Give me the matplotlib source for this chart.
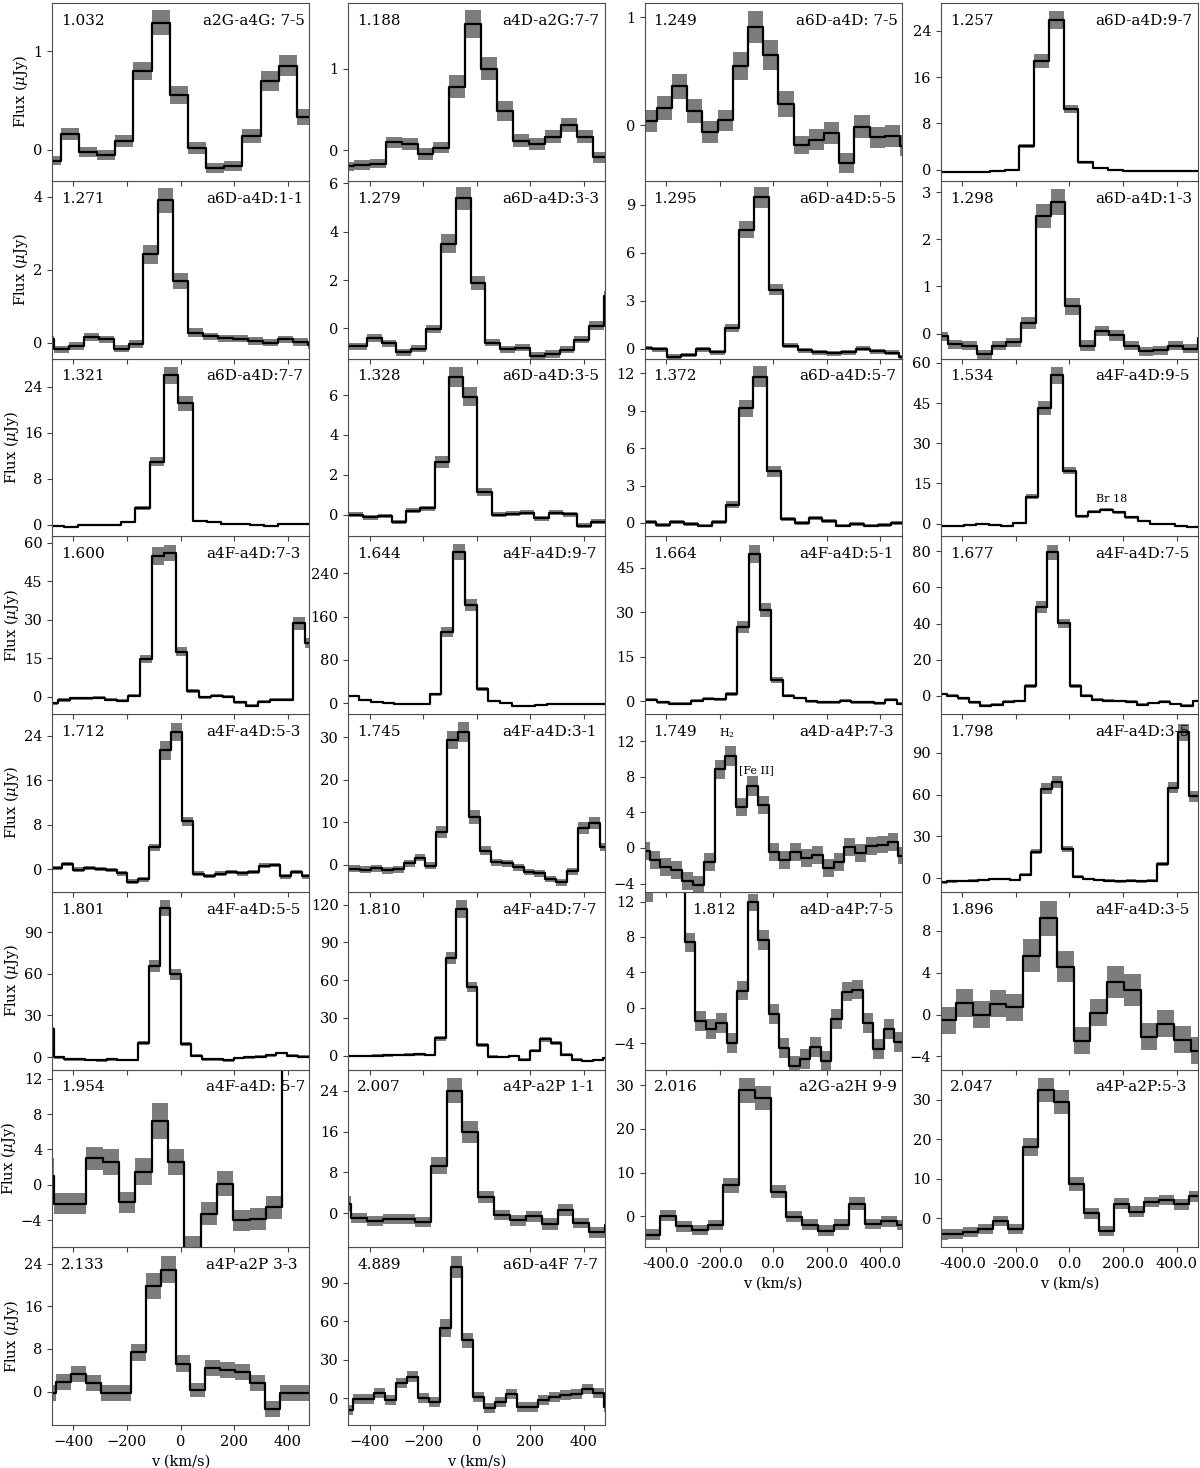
import numpy as np
import matplotlib
matplotlib.use('Agg')
import matplotlib.pyplot as plt
from matplotlib.ticker import MultipleLocator

plt.rcParams['font.family'] = 'DejaVu Serif'
plt.rcParams['mathtext.fontset'] = 'dejavuserif'

# panel order: row by row, 4 per row (last row has 2)
wavelengths = ['1.032', '1.188', '1.249', '1.257',
               '1.271', '1.279', '1.295', '1.298',
               '1.321', '1.328', '1.372', '1.534',
               '1.600', '1.644', '1.664', '1.677',
               '1.712', '1.745', '1.749', '1.798',
               '1.801', '1.810', '1.812', '1.896',
               '1.954', '2.007', '2.016', '2.047',
               '2.133', '4.889']
transitions = ['a2G-a4G: 7-5', 'a4D-a2G:7-7', 'a6D-a4D: 7-5', 'a6D-a4D:9-7',
               'a6D-a4D:1-1', 'a6D-a4D:3-3', 'a6D-a4D:5-5', 'a6D-a4D:1-3',
               'a6D-a4D:7-7', 'a6D-a4D:3-5', 'a6D-a4D:5-7', 'a4F-a4D:9-5',
               'a4F-a4D:7-3', 'a4F-a4D:9-7', 'a4F-a4D:5-1', 'a4F-a4D:7-5',
               'a4F-a4D:5-3', 'a4F-a4D:3-1', 'a4D-a4P:7-3', 'a4F-a4D:3-5',
               'a4F-a4D:5-5', 'a4F-a4D:7-7', 'a4D-a4P:7-5', 'a4F-a4D:3-5',
               'a4F-a4D: 5-7', 'a4P-a2P 1-1', 'a2G-a2H 9-9', 'a4P-a2P:5-3',
               'a4P-a2P 3-3', 'a6D-a4F 7-7']

# velocity grid of each spectrum: left edge of first channel, channel width (km/s)
grid_start = [-515.6, -519.6, -490.7, -518.4,
              -529.7, -522.2, -505.1, -509.9,
              -489.1, -530.4, -487.2, -487.4,
              -501.7, -482.8, -518.0, -500.35,
              -483.8, -517.4, -501.8, -498.0,
              -513.6, -508.6, -486.0, -485.5,
              -535.0, -527.4, -538.9, -510.7,
              -521.0, -504.6]
grid_step = [67.9, 59.6, 56.7, 55.2,
             55.9, 55.4, 54.2, 54.9,
             53.4, 53.2, 51.6, 46.4,
             43.9, 43.8, 42.6, 41.75,
             40.8, 40.7, 40.4, 39.3,
             39.6, 39.2, 39.06, 62.6,
             61.0, 59.2, 58.8, 56.4,
             55.8, 40.8]

# y range and tick spacing of each panel
y_limits = [(-0.315, 1.49), (-0.37, 1.8), (-0.51, 1.13), (-1.9, 28.8),
            (-0.43, 4.44), (-1.24, 6.1), (-0.62, 10.49), (-0.53, 3.24),
            (-1.96, 28.9), (-1.08, 7.83), (-1.07, 13.2), (-4.7, 61.6),
            (-6.75, 62.5), (-19.7, 308), (-4.3, 55.7), (-10.2, 88.4),
            (-4.04, 27.95), (-6.4, 35.5), (-4.92, 15.04), (-9.6, 117.8),
            (-8.9, 119), (-11.1, 130.3), (-6.95, 13.1), (-5.24, 11.7),
            (-7.07, 13.04), (-6.7, 28.2), (-7.1, 33.6), (-7.35, 37.6),
            (-6.27, 27.1), (-20.8, 117.7)]
y_tick_step = [1, 1, 1, 8,
               2, 2, 3, 1,
               8, 2, 3, 15,
               15, 80, 15, 20,
               8, 10, 4, 30,
               30, 30, 4, 4,
               4, 8, 10, 10,
               8, 30]

# flux (uJy) per channel and its 1-sigma error
f1032 = [-0.11, 0.156, -0.02, -0.05, 0.09, 0.80, 1.29, 0.556, 0.017, -0.186, -0.163, 0.142, 0.70, 0.854, 0.336]
e1032 = [0.05, 0.06, 0.05, 0.05, 0.06, 0.095, 0.13, 0.09, 0.06, 0.05, 0.05, 0.07, 0.10, 0.11, 0.08]
f1188 = [-0.195, -0.18, -0.16, 0.10, 0.08, -0.045, 0.035, 0.78, 1.54, 1.00, 0.48, 0.12, 0.08, 0.17, 0.31, 0.17, -0.085]
e1188 = [0.06, 0.06, 0.06, 0.07, 0.07, 0.07, 0.07, 0.14, 0.17, 0.135, 0.12, 0.08, 0.07, 0.08, 0.08, 0.08, 0.07]
f1249 = [0.04, 0.16, 0.363, 0.13, -0.06, 0.046, 0.545, 0.908, 0.652, 0.20, -0.18, -0.13, -0.07, -0.345, -0.01, -0.11, -0.10, -0.185]
e1249 = [0.10, 0.11, 0.115, 0.11, 0.10, 0.10, 0.13, 0.15, 0.14, 0.12, 0.085, 0.10, 0.10, 0.09, 0.11, 0.10, 0.10, 0.10]
f1257 = [-0.35, -0.35, -0.4, -0.4, -0.2, -0.06, 4.03, 18.8, 25.9, 10.47, 1.27, 0.23, -0.06, -0.29, -0.29, -0.17, -0.17, -0.17, -0.17]
e1257 = [0.1, 0.1, 0.1, 0.1, 0.1, 0.12, 0.35, 1.2, 1.6, 0.7, 0.25, 0.12, 0.1, 0.1, 0.1, 0.1, 0.1, 0.1, 0.1]

f1271 = [0.10, -0.18, -0.09, 0.17, 0.10, -0.16, -0.03, 2.42, 3.90, 1.69, 0.28, 0.18, 0.125, 0.11, 0.05, 0.0, 0.10, 0.02, -0.07]
e1271 = [0.1, 0.1, 0.1, 0.11, 0.1, 0.1, 0.1, 0.25, 0.34, 0.22, 0.12, 0.1, 0.1, 0.1, 0.1, 0.1, 0.1, 0.1, 0.1]
f1279 = [-0.73, -0.73, -0.39, -0.61, -0.98, -0.83, -0.03, 3.50, 5.37, 1.87, -0.58, -0.86, -0.80, -1.12, -1.05, -0.88, -0.47, 0.12, 1.36]
e1279 = [0.15, 0.15, 0.15, 0.15, 0.15, 0.15, 0.17, 0.39, 0.46, 0.29, 0.15, 0.15, 0.15, 0.15, 0.15, 0.15, 0.15, 0.17, 0.2]
f1295 = [0.04, -0.04, -0.5, -0.4, -0.04, -0.22, 1.28, 7.44, 9.45, 3.69, 0.18, -0.11, -0.22, -0.29, -0.22, 0.0, -0.18, -0.26, -0.55]
e1295 = [0.15, 0.15, 0.15, 0.15, 0.15, 0.15, 0.25, 0.55, 0.66, 0.35, 0.15, 0.15, 0.15, 0.15, 0.15, 0.15, 0.15, 0.15, 0.15]
f1298 = [-0.06, -0.23, -0.26, -0.44, -0.26, -0.19, 0.22, 2.49, 2.79, 0.58, -0.26, 0.05, -0.04, -0.26, -0.38, -0.36, -0.26, -0.32, -0.1]
e1298 = [0.1, 0.1, 0.1, 0.1, 0.1, 0.1, 0.13, 0.25, 0.28, 0.18, 0.12, 0.11, 0.11, 0.1, 0.1, 0.1, 0.1, 0.1, 0.1]

f1321 = [-0.1, -0.4, 0.06, -0.06, 0.0, 0.46, 2.88, 11.0, 26.0, 21.1, 0.63, 0.46, 0.23, 0.17, -0.06, -0.23, 0.11, 0.17, 0.23]
e1321 = [0.15, 0.15, 0.15, 0.15, 0.15, 0.2, 0.35, 0.8, 1.5, 1.3, 0.2, 0.15, 0.15, 0.15, 0.15, 0.15, 0.15, 0.15, 0.15]
f1328 = [0.0, 0.0, -0.13, -0.07, -0.37, 0.2, 0.32, 2.62, 6.9, 5.92, 1.15, 0.0, 0.05, 0.1, -0.18, 0.1, 0.03, -0.55, -0.35, -0.35]
e1328 = [0.12, 0.12, 0.12, 0.12, 0.12, 0.12, 0.12, 0.3, 0.5, 0.48, 0.2, 0.12, 0.12, 0.12, 0.12, 0.12, 0.12, 0.12, 0.12, 0.12]
f1372 = [0.05, -0.16, 0.05, -0.08, -0.21, 0.05, 1.47, 9.2, 11.74, 4.14, 0.32, -0.03, 0.37, 0.16, -0.21, -0.08, -0.21, -0.16, 0.0]
e1372 = [0.15, 0.15, 0.15, 0.15, 0.15, 0.15, 0.25, 0.67, 0.83, 0.45, 0.15, 0.15, 0.15, 0.15, 0.15, 0.15, 0.15, 0.15, 0.15]
f1534 = [-0.87, -0.74, -0.5, 0.0, -0.37, -1.0, 0.25, 10.0, 43.2, 55.3, 19.7, 2.73, 4.46, 5.2, 4.2, 2.35, 0.87, 0.0, 0.0, -0.74, -1.1, -1.1]
e1534 = [0.4, 0.4, 0.4, 0.4, 0.4, 0.4, 0.4, 0.9, 2.7, 3.1, 1.3, 0.5, 0.6, 0.6, 0.6, 0.5, 0.4, 0.4, 0.4, 0.4, 0.4, 0.4]

f1600 = [-2.6, -1.3, -0.6, -0.7, -0.4, -1.2, -1.56, 0.4, 14.7, 54.9, 56.0, 17.5, 2.1, -0.26, 0.4, 0.0, -2.2, -3.5, -1.95, -1.2, -1.2, 28.6, 20.8]
e1600 = [0.6, 0.6, 0.6, 0.6, 0.6, 0.6, 0.6, 0.6, 1.5, 3.5, 3.2, 1.7, 0.8, 0.6, 0.6, 0.6, 0.6, 0.6, 0.6, 0.6, 0.6, 2.6, 2.0]
f1644 = [14.2, 6.8, 3.1, 1.2, -1.2, -1.8, -1.2, 16.6, 131.0, 278.8, 181.5, 26.5, 3.7, 0.6, -4.3, -4.9, -3.7, -1.8, -1.8, -1.2, -0.6, -0.6, -0.6]
e1644 = [2.0, 2.0, 2.0, 2.0, 2.0, 2.0, 2.0, 3.0, 9.0, 14.8, 11.0, 3.0, 2.0, 2.0, 2.0, 2.0, 2.0, 2.0, 2.0, 2.0, 2.0, 2.0, 2.0]
f1664 = [0.45, 0.45, -0.34, -0.9, -0.9, 0.2, 0.9, 0.67, 2.47, 25.0, 49.7, 30.8, 7.2, 1.9, 1.1, 0.0, -0.3, -0.3, 0.2, -0.3, -0.3, -0.7, 0.45, -0.9]
e1664 = [0.5, 0.5, 0.5, 0.5, 0.5, 0.5, 0.5, 0.5, 0.6, 2.0, 3.0, 2.5, 0.9, 0.5, 0.5, 0.5, 0.5, 0.5, 0.5, 0.5, 0.5, 0.5, 0.5, 0.5]
f1677 = [0.9, 0.0, -1.5, -3.7, -5.5, -5.0, -3.3, -3.1, 5.2, 49.4, 79.5, 40.1, 5.2, 0.0, -2.2, -2.8, -3.1, -3.3, -5.0, -4.1, -3.3, -4.6, -5.5, -3.1]
e1677 = [0.7, 0.7, 0.7, 0.7, 0.7, 0.7, 0.7, 0.7, 1.0, 3.3, 4.0, 2.5, 1.0, 0.7, 0.7, 0.7, 0.7, 0.7, 0.7, 0.7, 0.7, 0.7, 0.7, 0.7]

f1712 = [0.24, 0.96, -0.06, 0.24, 0.06, -0.12, -0.72, -2.2, -1.8, 3.98, 21.4, 24.7, 8.67, -0.78, -1.2, -0.78, -0.48, -0.72, -0.48, 0.66, 0.78, -1.27, -0.48, -1.27]
e1712 = [0.4, 0.4, 0.4, 0.4, 0.4, 0.4, 0.4, 0.4, 0.4, 0.6, 1.7, 1.6, 0.8, 0.4, 0.4, 0.4, 0.4, 0.4, 0.4, 0.4, 0.4, 0.4, 0.4, 0.4]
f1745 = [-1.0, -1.0, -1.2, -0.9, -1.3, -1.1, 0.3, 1.66, -0.24, 7.66, 29.4, 31.3, 11.2, 3.3, 0.55, 0.3, -0.63, -1.74, -2.05, -3.4, -4.2, -1.58, 8.7, 9.87, 4.1]
e1745 = [0.8, 0.8, 0.8, 0.8, 0.8, 0.8, 0.8, 0.8, 0.8, 1.4, 2.2, 2.4, 1.6, 1.0, 0.8, 0.8, 0.8, 0.8, 0.8, 0.8, 0.8, 0.8, 1.4, 1.4, 1.0]
f1749 = [-0.3, -1.35, -2.18, -2.44, -3.68, -4.17, -1.54, 8.83, 10.34, 4.59, 6.95, 4.85, -0.49, -1.32, -0.49, -1.17, -0.75, -2.26, -1.62, 0.08, -0.56, 0.19, 0.38, 0.64, -0.86]
e1749 = [1.0, 1.0, 1.0, 1.0, 1.0, 1.0, 1.0, 1.1, 1.1, 1.0, 1.1, 1.0, 1.0, 1.0, 1.0, 1.0, 1.0, 1.0, 1.0, 1.0, 1.0, 1.0, 1.0, 1.0, 1.0]
f1798 = [-2.9, -2.2, -1.9, -1.7, -1.2, -0.5, -0.5, -1.2, 2.6, 19.2, 64.3, 69.1, 21.1, 1.2, -0.5, -1.2, -1.7, -2.2, -1.7, -2.2, -1.7, 10.3, 65.0, 104.6, 58.8]
e1798 = [1.0, 1.0, 1.0, 1.0, 1.0, 1.0, 1.0, 1.0, 1.0, 2.0, 4.0, 4.0, 2.0, 1.0, 1.0, 1.0, 1.0, 1.0, 1.0, 1.0, 1.0, 1.5, 4.0, 6.0, 4.0]

f1801 = [20.5, 0.0, -1.5, -1.5, -2.0, -2.2, -1.7, -2.0, -2.0, 10.1, 65.6, 107.4, 59.6, 9.65, 1.0, -1.5, -1.5, -2.2, -0.7, -0.2, 0.2, 1.45, 2.9, 1.0, 0.2, 0.2]
e1801 = [1.5, 1.0, 1.0, 1.0, 1.0, 1.0, 1.0, 1.0, 1.0, 1.5, 4.5, 6.0, 4.0, 1.5, 1.0, 1.0, 1.0, 1.0, 1.0, 1.0, 1.0, 1.0, 1.0, 1.0, 1.0, 1.0]
f1810 = [-0.5, -0.5, -0.3, 0.0, 0.2, 0.5, 0.8, 1.0, 0.6, 13.8, 77.6, 116.6, 54.8, 8.5, -0.8, -1.3, -0.3, -3.2, 4.0, 13.0, 9.8, 0.8, -3.2, -4.2, -3.4, -1.9]
e1810 = [1.0, 1.0, 1.0, 1.0, 1.0, 1.0, 1.0, 1.0, 1.0, 2.0, 5.0, 6.9, 4.0, 1.5, 1.0, 1.0, 1.0, 1.0, 1.2, 2.0, 1.8, 1.0, 1.0, 1.0, 1.0, 1.0]
f1812 = [13.6, 20.0, 24.0, 18.0, 7.4, -1.5, -2.37, -1.73, -3.98, 1.95, 11.9, 7.67, -0.68, -4.55, -6.58, -5.75, -4.44, -5.94, -1.24, 1.84, 2.07, -1.73, -4.62, -2.37, -3.87]
e1812 = [1.7, 1.5, 1.5, 1.5, 1.1, 1.1, 1.1, 1.1, 1.1, 1.1, 1.0, 1.1, 1.1, 1.1, 1.1, 1.1, 1.1, 1.1, 1.1, 1.1, 1.1, 1.1, 1.1, 1.1, 1.1]
f1896 = [-0.57, 1.11, -0.03, 1.02, 0.7, 5.62, 9.17, 4.57, -2.48, 0.16, 3.08, 2.35, -2.1, -0.89, -2.41, -3.43]
e1896 = [1.3, 1.3, 1.3, 1.3, 1.3, 1.6, 1.65, 1.5, 1.3, 1.3, 1.5, 1.5, 1.3, 1.3, 1.3, 1.3]

f1954 = [1.0, -2.14, -2.14, 3.0, 2.56, -2.0, 1.5, 7.2, 2.56, -7.4, -3.27, 0.11, -4.0, -3.87, -2.52, 30.0, 30.0]
e1954 = [2.0, 1.2, 1.2, 1.3, 1.5, 1.2, 1.5, 2.0, 1.5, 1.6, 1.3, 1.4, 1.2, 1.2, 1.3, 2.0, 2.0]
f2007 = [1.83, -1.0, -1.6, -1.2, -1.1, -1.8, 9.35, 24.0, 15.9, 3.14, -0.33, -1.44, -0.65, -2.16, 0.65, -1.96, -3.8, -2.3]
e2007 = [1.5, 1.0, 1.0, 1.0, 1.0, 1.0, 1.7, 2.45, 2.2, 1.2, 1.0, 1.0, 1.0, 1.2, 1.2, 1.0, 1.0, 1.0]
f2016 = [-4.2, -4.2, 0.15, -2.3, -3.14, -2.0, 7.04, 28.8, 27.1, 5.66, -0.08, -1.9, -3.3, -1.9, 2.83, -1.76, -1.15, -2.0]
e2016 = [1.2, 1.2, 1.2, 1.2, 1.2, 1.2, 1.7, 2.8, 2.8, 1.5, 1.2, 1.2, 1.2, 1.2, 1.5, 1.2, 1.2, 1.2]
f2047 = [-4.1, -4.0, -3.55, -2.7, -0.76, -2.7, 18.0, 32.4, 29.4, 8.7, 1.27, -3.3, 3.63, 1.69, 4.06, 4.65, 3.47, 5.5]
e2047 = [1.3, 1.3, 1.3, 1.3, 1.3, 1.3, 2.4, 3.0, 3.0, 1.8, 1.4, 1.3, 1.4, 1.3, 1.3, 1.3, 1.3, 1.3]

f2133 = [-0.3, 1.88, 3.26, 1.69, -0.3, -0.3, 7.39, 19.9, 22.9, 5.2, 0.31, 4.39, 4.07, 3.76, 1.69, -3.32, -0.3, -0.3, -0.3]
e2133 = [1.5, 1.5, 1.5, 1.5, 1.5, 1.5, 1.6, 2.45, 2.6, 1.6, 1.3, 1.5, 1.5, 1.5, 1.5, 1.5, 1.55, 1.55, 1.55]
f4889 = [-9.1, -0.8, -0.8, 3.9, -1.3, 11.7, 16.9, 0.0, -2.6, 54.7, 102.3, 45.1, 1.3, -7.8, -2.6, 3.1, -7.0, -6.5, -1.3, 1.3, 2.6, 3.1, 7.0, 3.9, -6.5]
e4889 = [4.0, 4.0, 4.0, 4.0, 4.0, 4.0, 4.0, 4.0, 4.0, 6.8, 8.9, 6.0, 4.0, 4.0, 4.0, 4.0, 4.0, 4.0, 4.0, 4.0, 4.0, 4.0, 4.0, 4.0, 4.0]

fluxes = [f1032, f1188, f1249, f1257, f1271, f1279, f1295, f1298,
          f1321, f1328, f1372, f1534, f1600, f1644, f1664, f1677,
          f1712, f1745, f1749, f1798, f1801, f1810, f1812, f1896,
          f1954, f2007, f2016, f2047, f2133, f4889]
errors = [e1032, e1188, e1249, e1257, e1271, e1279, e1295, e1298,
          e1321, e1328, e1372, e1534, e1600, e1644, e1664, e1677,
          e1712, e1745, e1749, e1798, e1801, e1810, e1812, e1896,
          e1954, e2007, e2016, e2047, e2133, e4889]

fig = plt.figure(figsize=(12, 14.68), dpi=100)
gs = fig.add_gridspec(8, 4, left=52/1200, right=1198/1200, top=1-3/1468,
                      bottom=1-1425/1468, hspace=0, wspace=0.1525)

band_color = '#7c7c7c'
# draw bottom rows first so the x ticks of upper panels stay on top
for i in reversed(range(len(wavelengths))):
    row, col = divmod(i, 4)
    ax = fig.add_subplot(gs[row, col])
    flux = np.array(fluxes[i])
    err = np.array(errors[i])
    edges = grid_start[i] + grid_step[i] * np.arange(len(flux) + 1)
    y = np.append(flux, flux[-1])
    e = np.append(err, err[-1])
    ax.fill_between(edges, y - e, y + e, step='post', color=band_color, lw=0)
    ax.step(edges, y, where='post', color='k', lw=1.6)

    ax.set_xlim(-480, 480)
    ax.set_ylim(*y_limits[i])
    ax.yaxis.set_major_locator(MultipleLocator(y_tick_step[i]))
    ax.set_xticks([-400, -200, 0, 200, 400])
    ax.tick_params(labelsize=10.5, color='0.25')
    for sp in ax.spines.values():
        sp.set_edgecolor('0.3')

    wx = 0.186 if wavelengths[i] == '1.812' else 0.035
    ax.text(wx, 0.9, wavelengths[i], transform=ax.transAxes, fontsize=11, va='center')
    tx = 0.587 if ': ' in transitions[i] and i < 4 else 0.6
    ax.text(tx, 0.9, transitions[i], transform=ax.transAxes, fontsize=11, va='center')

    if col == 0:
        ax.set_ylabel(r'Flux ($\mu$Jy)', fontsize=10.5, labelpad=2)

    if i in (26, 27):
        ax.set_xticklabels(['-400.0', '-200.0', '0.0', '200.0', '400.0'])
        ax.set_xlabel('v (km/s)', fontsize=10.5)
    elif i in (28, 29):
        ax.set_xlabel('v (km/s)', fontsize=10.5)
    else:
        ax.tick_params(labelbottom=False)

    if wavelengths[i] == '1.534':
        ax.text(156, 9.2, 'Br 18', fontsize=8, ha='center', va='center')
    if wavelengths[i] == '1.749':
        ax.text(-171, 12.86, 'H$_2$', fontsize=8, ha='center', va='center')
        ax.text(-61, 8.7, '[Fe II]', fontsize=8, ha='center', va='center')

fig.savefig('out.png', dpi=100)
